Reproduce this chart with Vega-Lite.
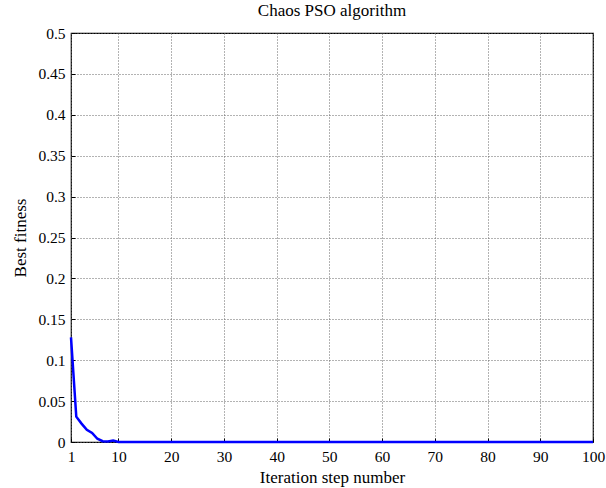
{
  "$schema": "https://vega.github.io/schema/vega-lite/v6.json",
  "width": 522,
  "height": 409,
  "autosize": {"type": "none"},
  "padding": {"left": 71, "top": 33, "right": 13, "bottom": 46},
  "background": "white",
  "title": {"text": "Chaos PSO algorithm", "font": "Liberation Serif", "fontSize": 17, "fontWeight": "normal", "color": "black", "offset": 6},
  "config": {
    "view": {"stroke": "black", "strokeWidth": 1.2},
    "axis": {"labelFont": "Liberation Serif", "titleFont": "Liberation Serif", "labelFontSize": 15.5, "titleFontSize": 17, "titleFontWeight": "normal", "labelColor": "black", "titleColor": "black", "domainColor": "black", "tickColor": "black", "gridColor": "#666", "gridDash": [1, 2], "gridWidth": 1, "labelFlush": false}
  },
  "data": {"values": [
    {"iter": 1, "fit": 0.128}, {"iter": 2, "fit": 0.031}, {"iter": 3, "fit": 0.0225}, {"iter": 4, "fit": 0.015},
    {"iter": 5, "fit": 0.011}, {"iter": 6, "fit": 0.004}, {"iter": 7, "fit": 0.001}, {"iter": 8, "fit": 0.0005},
    {"iter": 9, "fit": 0.0018}, {"iter": 10, "fit": 0}, {"iter": 11, "fit": 0}, {"iter": 12, "fit": 0},
    {"iter": 13, "fit": 0}, {"iter": 14, "fit": 0}, {"iter": 15, "fit": 0}, {"iter": 16, "fit": 0},
    {"iter": 17, "fit": 0}, {"iter": 18, "fit": 0}, {"iter": 19, "fit": 0}, {"iter": 20, "fit": 0},
    {"iter": 21, "fit": 0}, {"iter": 22, "fit": 0}, {"iter": 23, "fit": 0}, {"iter": 24, "fit": 0},
    {"iter": 25, "fit": 0}, {"iter": 26, "fit": 0}, {"iter": 27, "fit": 0}, {"iter": 28, "fit": 0},
    {"iter": 29, "fit": 0}, {"iter": 30, "fit": 0}, {"iter": 31, "fit": 0}, {"iter": 32, "fit": 0},
    {"iter": 33, "fit": 0}, {"iter": 34, "fit": 0}, {"iter": 35, "fit": 0}, {"iter": 36, "fit": 0},
    {"iter": 37, "fit": 0}, {"iter": 38, "fit": 0}, {"iter": 39, "fit": 0}, {"iter": 40, "fit": 0},
    {"iter": 41, "fit": 0}, {"iter": 42, "fit": 0}, {"iter": 43, "fit": 0}, {"iter": 44, "fit": 0},
    {"iter": 45, "fit": 0}, {"iter": 46, "fit": 0}, {"iter": 47, "fit": 0}, {"iter": 48, "fit": 0},
    {"iter": 49, "fit": 0}, {"iter": 50, "fit": 0}, {"iter": 51, "fit": 0}, {"iter": 52, "fit": 0},
    {"iter": 53, "fit": 0}, {"iter": 54, "fit": 0}, {"iter": 55, "fit": 0}, {"iter": 56, "fit": 0},
    {"iter": 57, "fit": 0}, {"iter": 58, "fit": 0}, {"iter": 59, "fit": 0}, {"iter": 60, "fit": 0},
    {"iter": 61, "fit": 0}, {"iter": 62, "fit": 0}, {"iter": 63, "fit": 0}, {"iter": 64, "fit": 0},
    {"iter": 65, "fit": 0}, {"iter": 66, "fit": 0}, {"iter": 67, "fit": 0}, {"iter": 68, "fit": 0},
    {"iter": 69, "fit": 0}, {"iter": 70, "fit": 0}, {"iter": 71, "fit": 0}, {"iter": 72, "fit": 0},
    {"iter": 73, "fit": 0}, {"iter": 74, "fit": 0}, {"iter": 75, "fit": 0}, {"iter": 76, "fit": 0},
    {"iter": 77, "fit": 0}, {"iter": 78, "fit": 0}, {"iter": 79, "fit": 0}, {"iter": 80, "fit": 0},
    {"iter": 81, "fit": 0}, {"iter": 82, "fit": 0}, {"iter": 83, "fit": 0}, {"iter": 84, "fit": 0},
    {"iter": 85, "fit": 0}, {"iter": 86, "fit": 0}, {"iter": 87, "fit": 0}, {"iter": 88, "fit": 0},
    {"iter": 89, "fit": 0}, {"iter": 90, "fit": 0}, {"iter": 91, "fit": 0}, {"iter": 92, "fit": 0},
    {"iter": 93, "fit": 0}, {"iter": 94, "fit": 0}, {"iter": 95, "fit": 0}, {"iter": 96, "fit": 0},
    {"iter": 97, "fit": 0}, {"iter": 98, "fit": 0}, {"iter": 99, "fit": 0}, {"iter": 100, "fit": 0}
  ]},
  "mark": {"type": "line", "color": "#0000ff", "strokeWidth": 2.5, "clip": false},
  "encoding": {
    "x": {"field": "iter", "type": "quantitative", "scale": {"domain": [1, 100], "nice": false, "zero": false},
      "axis": {"title": "Iteration step number", "values": [1, 10, 20, 30, 40, 50, 60, 70, 80, 90, 100], "tickSize": -4, "labelPadding": 11, "titlePadding": 5, "domain": false}},
    "y": {"field": "fit", "type": "quantitative", "scale": {"domain": [0, 0.5], "nice": false},
      "axis": {"title": "Best fitness", "values": [0, 0.05, 0.1, 0.15, 0.2, 0.25, 0.3, 0.35, 0.4, 0.45, 0.5], "format": "~g", "tickSize": -4, "labelPadding": 10, "titlePadding": 8, "domain": false}}
  }
}
